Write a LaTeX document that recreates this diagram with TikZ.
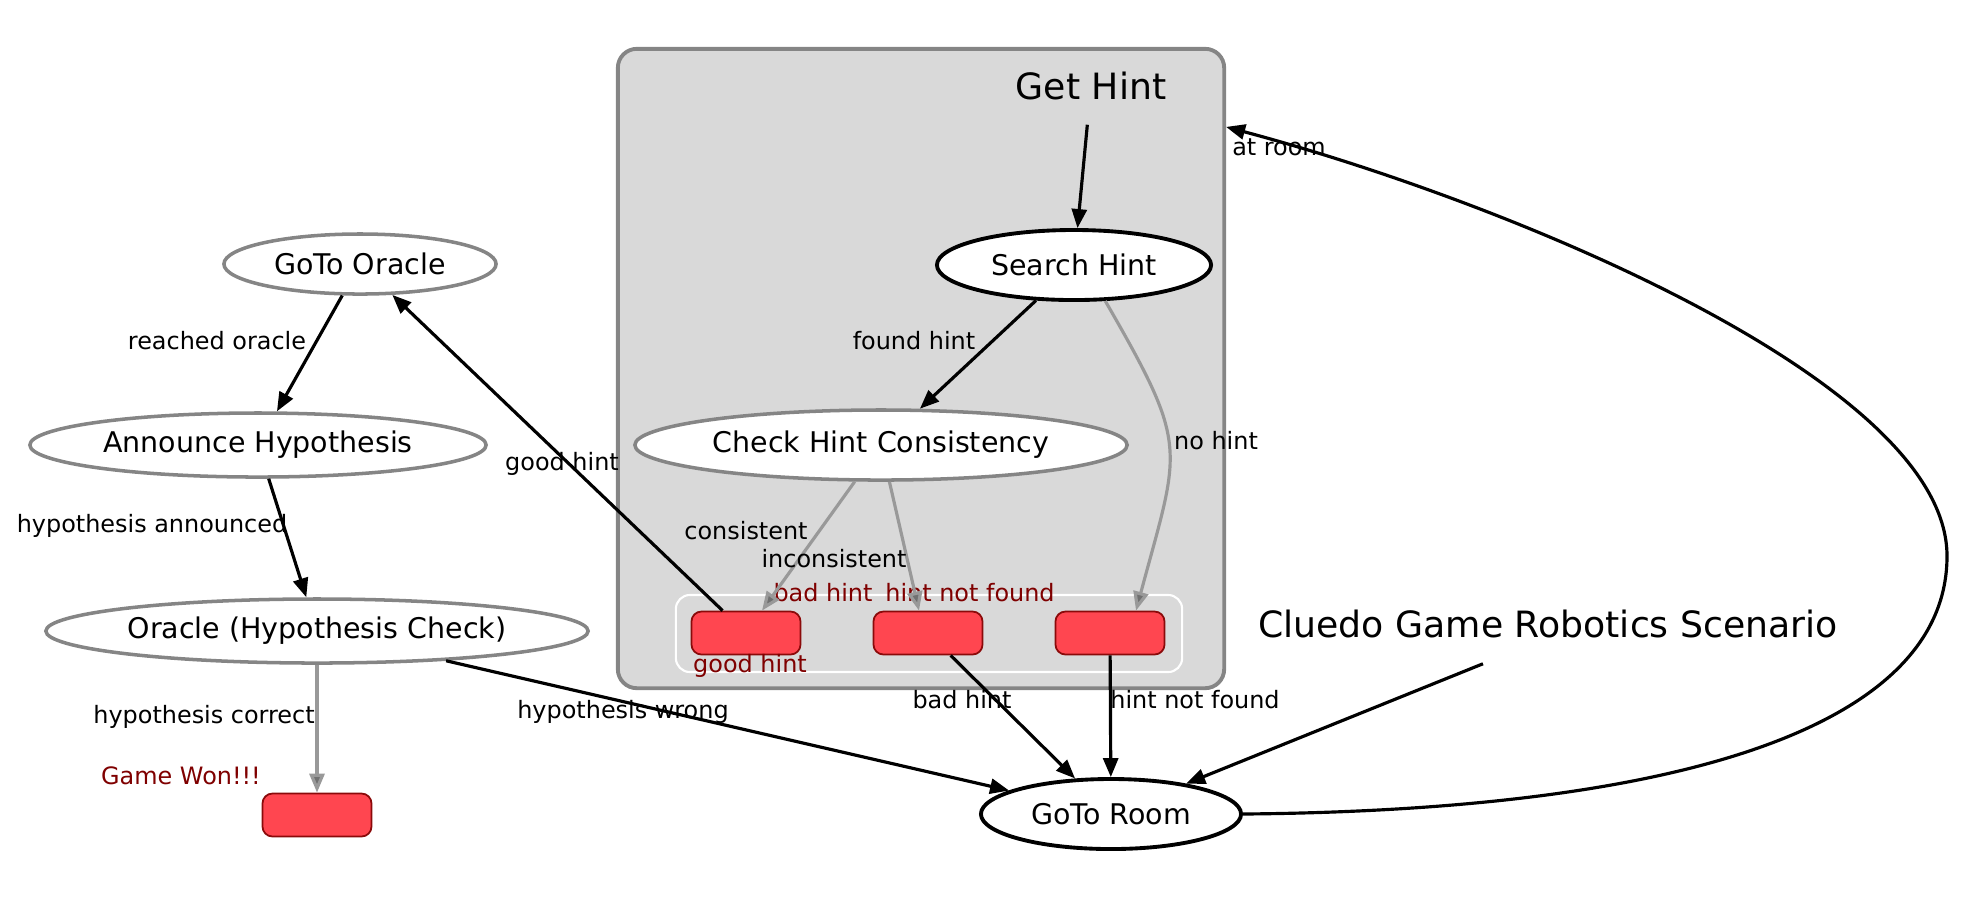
\documentclass[tikz,border=0pt]{standalone}
\usepackage{fontspec}
\setmainfont{DejaVu Sans}
\usepackage{tikz}
\usetikzlibrary{shapes.geometric, positioning, arrows.meta, calc}

\definecolor{clustergray}{HTML}{D9D9D9}
\definecolor{bordergray}{HTML}{858585}
\definecolor{edgegray}{HTML}{999999}
\definecolor{tipgray}{HTML}{707070}
\definecolor{outcomered}{HTML}{FF4650}
\definecolor{outcomeborder}{HTML}{8B0A0A}
\definecolor{outcometext}{HTML}{7F0000}

\begin{document}
\begin{tikzpicture}[
        x=0.01cm, y=-0.01cm,
        % Define styles for the state machine parts
        state/.style={draw=bordergray, line width=1pt, ellipse, fill=white, inner sep=0pt, font=\fontsize{8.1pt}{9.7pt}\selectfont},
        active/.style={state, draw=black, line width=1.1pt},
        outcome/.style={draw=outcomeborder, fill=outcomered, rounded corners=0.1cm, minimum width=1.09cm, minimum height=0.43cm, inner sep=0pt, line width=0.5pt},
        trans/.style={line width=0.9pt, -{Triangle[length=0.19cm, width=0.15cm]}},
        fadetrans/.style={line width=0.9pt, draw=edgegray, -{Triangle[length=0.19cm, width=0.15cm, fill=tipgray]}},
        elabel/.style={font=\fontsize{6.8pt}{8pt}\selectfont, inner sep=1pt},
        olabel/.style={elabel, text=outcometext},
        boxtitle/.style={font=\fontsize{10.3pt}{12pt}\selectfont}
    ]
    \useasboundingbox (0,0) rectangle (1982,917);

    % --- CONTAINER ---
    % Get Hint container and its outcome row
    \node[draw=bordergray, line width=1.1pt, fill=clustergray, rounded corners=0.19cm, minimum width=6.06cm, minimum height=6.39cm, inner sep=0pt] (gethint) at (921,368.5) {};
    \node[draw=white, line width=0.6pt, rounded corners=0.14cm, minimum width=5.06cm, minimum height=0.77cm, inner sep=0pt] (hintoutcomes) at (929,633.5) {};
    \node[boxtitle, inner sep=0.24cm] (gethintlabel) at (1091,86) {Get Hint};
    \node[boxtitle, inner sep=0.25cm] (scenario) at (1548,624) {Cluedo Game Robotics Scenario};

    % --- STATES ---
    % Oracle side
    \node[state, minimum width=2.72cm, minimum height=0.60cm] (gotooracle) at (360,264) {GoTo Oracle};
    \node[state, minimum width=4.56cm, minimum height=0.64cm] (announce) at (258,445) {Announce Hypothesis};
    \node[state, minimum width=5.42cm, minimum height=0.64cm] (oraclecheck) at (317,631) {Oracle (Hypothesis Check)};
    \node[outcome] (gamewon) at (317,815) {};

    % Hint side
    \node[active, minimum width=2.74cm, minimum height=0.70cm] (searchhint) at (1074,265) {Search Hint};
    \node[state, minimum width=4.92cm, minimum height=0.70cm] (checkhint) at (881,445) {Check Hint Consistency};
    \node[outcome] (goodhint) at (746,633) {};
    \node[outcome] (badhint) at (928,633) {};
    \node[outcome] (hintnotfound) at (1110,633) {};

    % Room
    \node[active, minimum width=2.60cm, minimum height=0.70cm] (gotoroom) at (1111,814) {GoTo Room};
    \coordinate (loopturn) at (1947,556);

    % --- OUTCOME LABELS ---
    \node[olabel] (goodhintout) at (750,666) {good hint};
    \node[olabel] (badhintout) at (823,593) {bad hint};
    \node[olabel] (notfoundout) at (970,593) {hint not found};
    \node[olabel] (gamewonout) at (181,776) {Game Won!!!};

    % --- TRANSITIONS ---
    \draw[trans] (gethintlabel) -- (searchhint);
    \draw[trans] (searchhint) -- (checkhint);
    \draw[fadetrans] (searchhint.-49) to[out=-60, in=75, looseness=1.4] ([xshift=0.26cm]hintnotfound.north);
    \draw[fadetrans] (checkhint) -- ([xshift=0.16cm]goodhint.north);
    \draw[fadetrans] (checkhint) -- ([xshift=-0.09cm]badhint.north);
    \draw[trans] (goodhint) -- (gotooracle);
    \draw[trans] (gotooracle) -- (announce);
    \draw[trans] (announce) -- (oraclecheck);
    \draw[fadetrans] (oraclecheck) -- (gamewon);
    \draw[trans] (oraclecheck) -- (gotoroom);
    \draw[trans] (badhint) -- (gotoroom);
    \draw[trans] (hintnotfound) -- (gotoroom);
    \draw[trans] ([xshift=-0.65cm]scenario.south) -- (gotoroom);
    % back into the container
    \draw[trans] (gotoroom.east) .. controls (1700,810) and (1947,720) .. (loopturn)
        .. controls (1947,380) and (1500,200) .. ([yshift=-0.8cm]gethint.north east);

    % --- TRANSITION LABELS ---
    \node[elabel] (foundlbl) at (914,341) {found hint};
    \node[elabel] (nohintlbl) at (1216,441) {no hint};
    \node[elabel] (consistentlbl) at (746,531) {consistent};
    \node[elabel] (inconsistentlbl) at (834,559) {inconsistent};
    \node[elabel] (goodhintlbl) at (562,464) {good hint};
    \node[elabel] (reachedlbl) at (217,341) {reached oracle};
    \node[elabel] (announcedlbl) at (152,526) {hypothesis announced};
    \node[elabel] (correctlbl) at (204,717) {hypothesis correct};
    \node[elabel] (wronglbl) at (623,712) {hypothesis wrong};
    \node[elabel] (badhintlbl) at (962,700) {bad hint};
    \node[elabel] (notfoundlbl) at (1195,700) {hint not found};
    \node[elabel] (atroomlbl) at (1279,147) {at room};

\end{tikzpicture}
\end{document}
